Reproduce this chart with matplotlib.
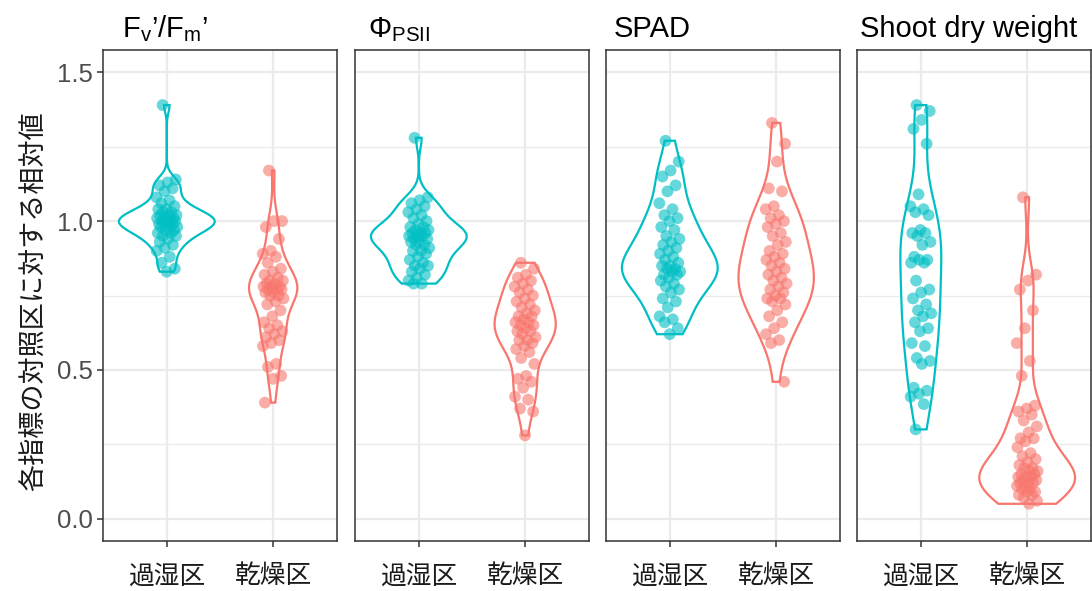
import numpy as np
import matplotlib
matplotlib.use('Agg')
import matplotlib.pyplot as plt
from matplotlib.ticker import MultipleLocator, FormatStrFormatter

plt.rcParams['font.family'] = ['Liberation Sans', 'Noto Sans CJK JP', 'DejaVu Sans']
plt.rcParams['mathtext.fontset'] = 'custom'
plt.rcParams['mathtext.rm'] = 'Liberation Sans'

# treatment groups and panel titles
groups = ['過湿区', '乾燥区']
titles = ['$\\mathregular{F_v}$’/$\\mathregular{F_m}$’',
          '$\\mathregular{Φ_{PSII}}$',
          'SPAD',
          'Shoot dry weight']
ylabel = '各指標の対照区に対する相対値'

# values (relative to control)
fvfm_wet = [1.39, 1.14, 1.13, 1.12, 1.11, 1.10, 1.08, 1.07, 1.06, 1.05, 1.04, 1.04,
            1.03, 1.03, 1.02, 1.02, 1.02, 1.01, 1.01, 1.01, 1.00, 1.00, 1.00, 1.00,
            0.99, 0.99, 0.99, 0.98, 0.98, 0.98, 0.97, 0.97, 0.96, 0.96, 0.95, 0.95,
            0.94, 0.93, 0.92, 0.91, 0.90, 0.88, 0.86, 0.84, 0.83]
fvfm_dry = [1.17, 1.00, 1.00, 0.98, 0.94, 0.90, 0.89, 0.88, 0.86, 0.84, 0.83, 0.82,
            0.81, 0.80, 0.80, 0.79, 0.79, 0.78, 0.78, 0.78, 0.77, 0.77, 0.77, 0.76,
            0.76, 0.75, 0.75, 0.74, 0.73, 0.72, 0.70, 0.68, 0.66, 0.65, 0.64, 0.63,
            0.62, 0.61, 0.60, 0.59, 0.58, 0.52, 0.51, 0.48, 0.47, 0.39]
phi_wet = [1.28, 1.08, 1.07, 1.06, 1.05, 1.04, 1.03, 1.02, 1.01, 1.00, 0.99, 0.98,
           0.98, 0.97, 0.97, 0.96, 0.96, 0.96, 0.95, 0.95, 0.95, 0.94, 0.94, 0.93,
           0.93, 0.92, 0.92, 0.91, 0.90, 0.90, 0.89, 0.88, 0.87, 0.86, 0.85, 0.85,
           0.84, 0.83, 0.82, 0.81, 0.80, 0.79, 0.79]
phi_dry = [0.86, 0.84, 0.82, 0.81, 0.80, 0.79, 0.78, 0.77, 0.76, 0.75, 0.74, 0.73,
           0.72, 0.71, 0.70, 0.69, 0.68, 0.68, 0.67, 0.66, 0.66, 0.65, 0.65, 0.64,
           0.63, 0.63, 0.62, 0.61, 0.60, 0.60, 0.59, 0.58, 0.57, 0.56, 0.54, 0.52,
           0.48, 0.47, 0.46, 0.44, 0.41, 0.40, 0.37, 0.36, 0.28]
spad_wet = [1.27, 1.20, 1.17, 1.15, 1.12, 1.10, 1.06, 1.04, 1.02, 1.01, 1.00, 0.98,
            0.97, 0.95, 0.94, 0.93, 0.92, 0.91, 0.90, 0.89, 0.88, 0.87, 0.86, 0.85,
            0.85, 0.84, 0.84, 0.83, 0.83, 0.82, 0.82, 0.81, 0.80, 0.79, 0.78, 0.77,
            0.76, 0.74, 0.73, 0.71, 0.68, 0.67, 0.66, 0.64, 0.62]
spad_dry = [1.33, 1.26, 1.20, 1.11, 1.10, 1.05, 1.04, 1.02, 1.01, 1.00, 0.99, 0.98,
            0.96, 0.95, 0.93, 0.92, 0.90, 0.89, 0.88, 0.87, 0.86, 0.85, 0.84, 0.83,
            0.82, 0.81, 0.80, 0.79, 0.78, 0.77, 0.76, 0.75, 0.74, 0.74, 0.73, 0.72,
            0.70, 0.68, 0.66, 0.64, 0.62, 0.60, 0.59, 0.46]
sdw_wet = [1.39, 1.37, 1.34, 1.31, 1.26, 1.09, 1.05, 1.04, 1.03, 1.02, 0.97, 0.96,
           0.96, 0.95, 0.93, 0.92, 0.88, 0.87, 0.87, 0.86, 0.86, 0.80, 0.77, 0.76,
           0.74, 0.72, 0.70, 0.69, 0.68, 0.66, 0.64, 0.63, 0.59, 0.58, 0.54, 0.53,
           0.52, 0.44, 0.43, 0.42, 0.41, 0.385, 0.30]
sdw_dry = [1.08, 0.82, 0.80, 0.77, 0.70, 0.64, 0.59, 0.53, 0.48, 0.38, 0.37, 0.36,
           0.35, 0.33, 0.31, 0.29, 0.27, 0.27, 0.26, 0.24, 0.22, 0.21, 0.20, 0.19,
           0.18, 0.17, 0.17, 0.16, 0.16, 0.15, 0.15, 0.14, 0.14, 0.14, 0.13, 0.13,
           0.12, 0.12, 0.12, 0.11, 0.11, 0.10, 0.10, 0.09, 0.09, 0.08, 0.08, 0.07,
           0.06, 0.05]

panels = [(fvfm_wet, fvfm_dry), (phi_wet, phi_dry),
          (spad_wet, spad_dry), (sdw_wet, sdw_dry)]
cols = ['#00BFC4', '#F8766D']


def ydensity(vals, n=512):
    # gaussian kde with R's bw.nrd0, trimmed to the data range (like geom_violin)
    v = np.asarray(vals, dtype=float)
    q75, q25 = np.percentile(v, [75, 25])
    bw = 0.9 * min(v.std(ddof=1), (q75 - q25) / 1.34) * len(v) ** -0.2
    ys = np.linspace(v.min(), v.max(), n)
    d = np.exp(-0.5 * ((ys[:, None] - v[None, :]) / bw) ** 2).sum(1)
    d = d / (len(v) * bw * np.sqrt(2 * np.pi))
    return ys, d


fig = plt.figure(figsize=(10.92, 5.91), dpi=100)
W, H = 1092.0, 591.0
lefts = [103, 355, 606, 857]
top, bot = 50, 541

for i, (pair, title) in enumerate(zip(panels, titles)):
    ax = fig.add_axes([lefts[i] / W, 1 - bot / H, 234 / W, (bot - top) / H])
    ax.set_xlim(0.4, 2.6)
    ax.set_ylim(-0.075, 1.575)
    ax.yaxis.set_major_locator(MultipleLocator(0.5))
    ax.yaxis.set_minor_locator(MultipleLocator(0.25))
    ax.yaxis.set_major_formatter(FormatStrFormatter('%.1f'))
    ax.set_xticks([1, 2])
    ax.set_xticklabels(groups, fontsize=18.5, color='#1A1A1A')
    ax.grid(which='major', color='#EBEBEB', lw=1.6, zorder=0)
    ax.grid(which='minor', axis='y', color='#EBEBEB', lw=0.9, zorder=0)
    ax.set_axisbelow(True)
    for s in ax.spines.values():
        s.set_color('#333333')
        s.set_linewidth(1.1)
    ax.tick_params(axis='x', length=4.3, width=1.1, color='#333333', pad=12.5)
    ax.tick_params(axis='y', which='minor', length=0)
    if i == 0:
        ax.tick_params(axis='y', which='major', length=4.3, width=1.1,
                       color='#333333', labelcolor='#4D4D4D', labelsize=18.5, pad=3)
    else:
        ax.tick_params(axis='y', which='major', length=0, labelleft=False)

    dens = [ydensity(v) for v in pair]
    dmax = max(d.max() for _, d in dens)
    for k, (vals, (ys, d)) in enumerate(zip(pair, dens)):
        pos = k + 1
        half = d / dmax * 0.45
        xs = np.concatenate([pos - half, (pos + half)[::-1]])
        yy = np.concatenate([ys, ys[::-1]])
        ax.fill(xs, yy, facecolor='white', edgecolor=cols[k], lw=1.6, zorder=2)
        n = len(vals)
        jit = ((np.arange(n) * 0.618034 + 0.3) % 1 - 0.5) * 0.2
        ax.scatter(pos + jit, vals, s=72, color=cols[k], alpha=0.6,
                   edgecolors='none', zorder=3)

    fig.text((122 + 246 * i) / W, 1 - 37 / H, title, fontsize=21,
             color='black', ha='left', va='baseline')

fig.text(35 / W, 1 - 301 / H, ylabel, rotation=90, fontsize=19.5,
         color='#1A1A1A', ha='center', va='center')

fig.savefig('out.png', dpi=100)
